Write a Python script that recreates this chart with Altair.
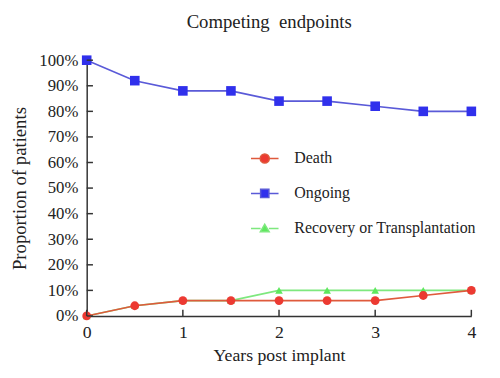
import altair as alt
import pandas as pd

years = [0, 0.5, 1, 1.5, 2, 2.5, 3, 3.5, 4]
series_names = ["Death", "Ongoing", "Recovery or Transplantation"]
death = [0, 4, 6, 6, 6, 6, 6, 8, 10]
ongoing = [100, 92, 88, 88, 84, 84, 82, 80, 80]
recovery = [0, 4, 6, 6, 10, 10, 10, 10, 10]
y_ticks = [0, 10, 20, 30, 40, 50, 60, 70, 80, 90, 100]
x_ticks = [0, 1, 2, 3, 4]

marker_colors = ["#ec3a32", "#3030ec", "#5ee85e"]
line_colors = ["#df5a3c", "#5a5ad8", "#7ee87e"]
shapes = ["circle", "square", "triangle-up"]
sizes = [80, 95, 60]
legend_paths = [
    "M-1,0H-0.33M0.33,0H1M0.33,0A0.33,0.33,0,1,1,-0.33,0A0.33,0.33,0,1,1,0.33,0Z",
    "M-1,0H-0.3M0.3,0H1M-0.3,-0.3H0.3V0.3H-0.3Z",
    "M-1,0H-0.3M0.3,0H1M0,-0.3L0.32,0.24H-0.32Z",
]

rows = []
for name, vals in zip(series_names, [death, ongoing, recovery]):
    for x, v in zip(years, vals):
        rows.append({"year": x, "value": v, "series": name})
df = pd.DataFrame(rows)

FONT = "Liberation Serif"
xscale = alt.Scale(domain=[0, 4], nice=False)
yscale = alt.Scale(domain=[0, 100], nice=False)

xaxis = alt.Axis(values=x_ticks, format="d", ticks=False, grid=False,
                 title="Years post implant", labelPadding=8, titlePadding=5,
                 labelOverlap=False, labelFlush=False,
                 labelFont=FONT, titleFont=FONT, labelFontSize=18, titleFontSize=18,
                 titleFontWeight="normal", labelColor="#222", titleColor="#222",
                 domainColor="#333", domainWidth=1.5)
yaxis = alt.Axis(values=y_ticks, labelExpr="datum.value + '%'", ticks=False,
                 grid=False, title="Proportion of patients",
                 labelPadding=9, titlePadding=10, labelOverlap=False, labelFlush=False,
                 labelFont=FONT, titleFont=FONT, labelFontSize=17, titleFontSize=19,
                 titleFontWeight="normal", labelColor="#222", titleColor="#222",
                 domainColor="#333", domainWidth=1.5)
xenc = alt.X("year:Q", scale=xscale, axis=xaxis)
yenc = alt.Y("value:Q", scale=yscale, axis=yaxis)

base = alt.Chart(df)
layers = []
# draw order: Ongoing, Recovery, Death (death on top)
for i in [1, 2, 0]:
    name = series_names[i]
    sub = base.transform_filter(alt.datum.series == name)
    layers.append(sub.mark_line(color=line_colors[i], strokeWidth=1.6).encode(x=xenc, y=yenc))
    layers.append(sub.mark_point(shape=shapes[i], filled=True, opacity=1,
                                 color=marker_colors[i], size=sizes[i]).encode(x=xenc, y=yenc))

def make_legend():
    return alt.Legend(title=None, orient="none", legendX=166, legendY=85,
                      symbolSize=784, symbolStrokeWidth=1.5,
                      labelFont=FONT, labelFontSize=16.2, labelColor="#222",
                      labelOffset=15, rowPadding=11.5, padding=0, labelLimit=400,
                      symbolOpacity=1)

legend_layer = base.transform_filter("false").mark_point(filled=True).encode(
    x=xenc, y=yenc,
    color=alt.Color("series:N", scale=alt.Scale(domain=series_names, range=marker_colors),
                    legend=make_legend()),
    stroke=alt.Stroke("series:N", scale=alt.Scale(domain=series_names, range=line_colors),
                      legend=make_legend()),
    shape=alt.Shape("series:N", scale=alt.Scale(domain=series_names, range=legend_paths),
                    legend=make_legend()),
)

ytick_df = pd.DataFrame({"value": y_ticks})
xtick_df = pd.DataFrame({"year": x_ticks})
ytick_layer = alt.Chart(ytick_df).mark_rule(color="#333", strokeWidth=1.5).encode(
    y=yenc, x=alt.XDatum(0, scale=xscale, axis=xaxis), x2=alt.X2Datum(0.065))
xtick_layer = alt.Chart(xtick_df).mark_rule(color="#333", strokeWidth=1.5).encode(
    x=xenc, y=alt.YDatum(0, scale=yscale, axis=yaxis), y2=alt.Y2Datum(2.4))

chart = alt.layer(*layers, legend_layer, ytick_layer, xtick_layer).properties(
    width=391, height=260,
    padding={"left": 80, "top": 50, "right": 21, "bottom": 60},
    autosize=alt.AutoSizeParams(type="none"),
    title=alt.TitleParams("Competing\u00a0\u00a0endpoints", font=FONT, fontSize=19,
                          fontWeight="normal", color="#222", dx=-10, offset=20),
    background="white",
).configure_view(stroke=None)

chart.save("out.html", embed_options={"renderer": "svg", "actions": False})
